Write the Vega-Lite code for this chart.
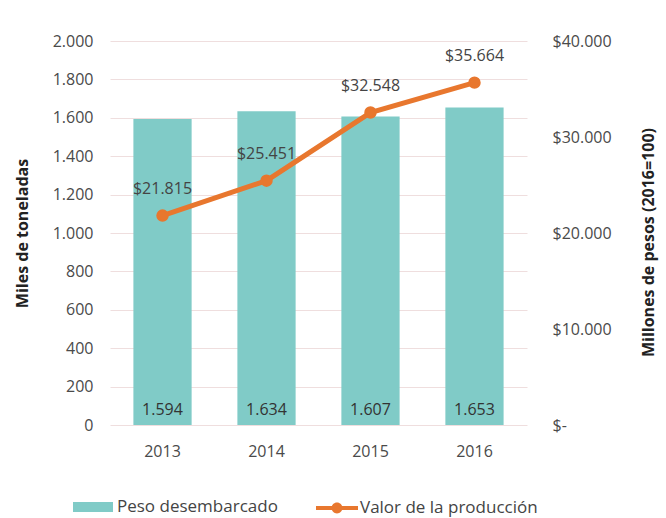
{
  "$schema": "https://vega.github.io/schema/vega-lite/v6.json",
  "autosize": {"type": "none"},
  "width": 417,
  "height": 384,
  "padding": {"left": 110, "top": 41, "right": 139, "bottom": 93},
  "background": "white",
  "config": {
    "font": "Open Sans",
    "view": {"stroke": null},
    "locale": {"number": {"decimal": ",", "thousands": ".", "grouping": [3], "currency": ["$", ""]}},
    "axis": {"labelFont": "Open Sans", "titleFont": "Open Sans", "labelColor": "#4a4a4a", "titleColor": "#222", "labelFontSize": 16, "titleFontSize": 16}
  },
  "data": {
    "values": [
      {"anio": "2013", "peso": 1594, "valor": 21815},
      {"anio": "2014", "peso": 1634, "valor": 25451},
      {"anio": "2015", "peso": 1607, "valor": 32548},
      {"anio": "2016", "peso": 1653, "valor": 35664}
    ]
  },
  "encoding": {
    "x": {
      "field": "anio", "type": "ordinal",
      "scale": {"paddingInner": 0.44, "paddingOuter": 0.225},
      "axis": {"title": null, "labelAngle": 0, "ticks": false, "domain": false, "labelPadding": 18}
    }
  },
  "layer": [
    {
      "layer": [
        {
          "mark": {"type": "bar"},
          "encoding": {
            "y": {
              "field": "peso", "type": "quantitative",
              "scale": {"domain": [0, 2000]},
              "axis": {
                "title": "Miles de toneladas", "titleFontWeight": "bold", "titleX": -88, "titleY": 192, "titleAngle": -90, "titleAlign": "center", "titleBaseline": "middle",
                "values": [0,200,400,600,800,1000,1200,1400,1600,1800,2000], "format": ",.0f",
                "labelOverlap": false, "labelFlush": false, "labelBound": false, "labelSeparation": 0,
                "domain": false, "ticks": false, "labelPadding": 17,
                "grid": true, "gridColor": "#efdede", "gridWidth": 1
              }
            },
            "fill": {
              "datum": "Peso desembarcado", "type": "nominal",
              "scale": {"range": ["#80cbc7"]},
              "legend": {
                "title": null, "orient": "none", "legendX": -37, "legendY": 446,
                "symbolType": "M-1,-0.25H1V0.25H-1Z", "symbolSize": 1600, "symbolStrokeWidth": 0,
                "labelFontSize": 17, "labelColor": "#444", "labelFont": "Open Sans", "labelOffset": 4, "labelLimit": 400
              }
            }
          }
        },
        {
          "mark": {"type": "text", "baseline": "bottom", "dy": -7, "fontSize": 16, "color": "#333", "font": "Open Sans"},
          "encoding": {
            "y": {
              "datum": 0, "type": "quantitative",
              "axis": {
                "title": "Miles de toneladas", "titleFontWeight": "bold", "titleX": -88, "titleY": 192, "titleAngle": -90, "titleAlign": "center", "titleBaseline": "middle",
                "values": [0,200,400,600,800,1000,1200,1400,1600,1800,2000], "format": ",.0f",
                "labelOverlap": false, "labelFlush": false, "labelBound": false, "labelSeparation": 0,
                "domain": false, "ticks": false, "labelPadding": 17,
                "grid": true, "gridColor": "#efdede", "gridWidth": 1
              }
            },
            "text": {"field": "peso", "type": "quantitative", "format": ",.0f"}
          }
        }
      ]
    },
    {
      "layer": [
        {
          "mark": {"type": "line", "strokeWidth": 5, "point": {"filled": true, "size": 110, "color": "#e8772e"}},
          "encoding": {
            "y": {
              "field": "valor", "type": "quantitative",
              "scale": {"domain": [0, 40000]},
              "axis": {
                "orient": "right", "title": "Millones de pesos (2016=100)", "titleFontWeight": "bold",
                "titleX": 121, "titleY": 201, "titleAngle": -90, "titleAlign": "center", "titleBaseline": "middle",
                "values": [0, 10000, 20000, 30000, 40000],
                "labelExpr": "datum.value == 0 ? '$-' : format(datum.value, '$,.0f')",
                "labelOverlap": false,
                "domain": false, "ticks": false, "labelPadding": 25, "grid": false
              }
            },
            "stroke": {
              "datum": "Valor de la producción", "type": "nominal",
              "scale": {"range": ["#e8772e"]},
              "legend": {
                "title": null, "orient": "none", "legendX": 206, "legendY": 446,
                "symbolType": "M-1,-0.09H1V0.09H-1Z M0.26,0 A0.26,0.26 0 1,1 -0.26,0 A0.26,0.26 0 1,1 0.26,0Z",
                "symbolSize": 1764, "symbolStrokeWidth": 0, "symbolFillColor": "#e8772e",
                "labelFontSize": 17, "labelColor": "#444", "labelFont": "Open Sans", "labelOffset": 2, "labelLimit": 400
              }
            }
          }
        },
        {
          "mark": {"type": "text", "dy": -27, "fontSize": 16, "color": "#444", "font": "Open Sans"},
          "encoding": {
            "y": {
              "field": "valor", "type": "quantitative",
              "axis": {
                "orient": "right", "title": "Millones de pesos (2016=100)", "titleFontWeight": "bold",
                "titleX": 121, "titleY": 201, "titleAngle": -90, "titleAlign": "center", "titleBaseline": "middle",
                "values": [0, 10000, 20000, 30000, 40000],
                "labelExpr": "datum.value == 0 ? '$-' : format(datum.value, '$,.0f')",
                "labelOverlap": false,
                "domain": false, "ticks": false, "labelPadding": 25, "grid": false
              }
            },
            "text": {"field": "valor", "type": "quantitative", "format": "$,.0f"}
          }
        }
      ],
      "resolve": {"scale": {"y": "shared"}}
    }
  ],
  "resolve": {"scale": {"y": "independent", "fill": "independent", "stroke": "independent"}}
}
